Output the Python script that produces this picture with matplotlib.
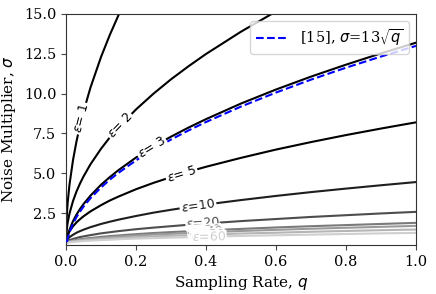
import numpy as np
import matplotlib
matplotlib.use("Agg")
import matplotlib.pyplot as plt

# ---- data ----
q_eps1 = [0, 0.001, 0.003, 0.005, 0.01, 0.02, 0.03, 0.04, 0.05, 0.07, 0.1, 0.125, 0.15, 0.16]
s_eps1 = [0.6, 1.77, 2.63, 3.22, 4.3, 5.83, 7.01, 8.0, 8.87, 10.39, 12.3, 13.68, 14.93, 15.4]

q_eps2 = [0, 0.001, 0.003, 0.005, 0.01, 0.02, 0.03, 0.04, 0.05, 0.07, 0.1, 0.125, 0.15,
          0.2, 0.25, 0.3, 0.35, 0.4, 0.5, 0.6, 0.62]
s_eps2 = [0.6, 1.19, 1.63, 1.93, 2.48, 3.26, 3.86, 4.36, 4.80, 5.57, 6.54, 7.25, 7.88,
          9.01, 10.0, 10.9, 11.72, 12.49, 13.89, 15.16, 15.4]

q_grid = [0, 0.001, 0.003, 0.005, 0.01, 0.02, 0.03, 0.04, 0.05, 0.07, 0.1, 0.125, 0.15,
          0.2, 0.25, 0.3, 0.35, 0.4, 0.5, 0.6, 0.7, 0.8, 0.9, 1.0]
s_eps3 = [0.6, 0.62, 0.87, 1.07, 1.46, 1.995, 2.41, 2.76, 3.07, 3.60, 4.28, 4.76, 5.20,
          5.99, 6.68, 7.30, 7.87, 8.40, 9.38, 10.26, 11.07, 11.82, 12.53, 13.2]
s_eps5 = [0.6, 0.84, 1.02, 1.14, 1.36, 1.67, 1.92, 2.12, 2.30, 2.61, 3.0, 3.29, 3.54,
          4.0, 4.4, 4.76, 5.10, 5.41, 5.97, 6.49, 6.96, 7.4, 7.81, 8.2]
s_eps10 = [0.6, 0.72, 0.81, 0.87, 0.99, 1.14, 1.27, 1.37, 1.46, 1.62, 1.82, 1.96, 2.09,
           2.32, 2.53, 2.71, 2.88, 3.04, 3.32, 3.58, 3.82, 4.04, 4.25, 4.45]
s_eps20 = [0.6, 0.66, 0.71, 0.74, 0.8, 0.88, 0.94, 1.0, 1.04, 1.12, 1.23, 1.30, 1.37,
           1.49, 1.59, 1.68, 1.77, 1.85, 2.0, 2.13, 2.26, 2.37, 2.48, 2.58]
s_eps30 = [0.6, 0.64, 0.67, 0.69, 0.73, 0.78, 0.82, 0.86, 0.89, 0.94, 1.01, 1.06, 1.10,
           1.18, 1.25, 1.31, 1.36, 1.42, 1.51, 1.6, 1.68, 1.75, 1.82, 1.89]
s_eps40 = [0.6, 0.63, 0.66, 0.68, 0.71, 0.76, 0.79, 0.82, 0.85, 0.89, 0.95, 0.99, 1.03,
           1.09, 1.15, 1.20, 1.25, 1.30, 1.38, 1.45, 1.52, 1.58, 1.64, 1.70]
s_eps50 = [0.6, 0.63, 0.65, 0.66, 0.69, 0.72, 0.75, 0.77, 0.79, 0.83, 0.88, 0.91, 0.94,
           0.99, 1.04, 1.08, 1.11, 1.15, 1.22, 1.27, 1.33, 1.38, 1.43, 1.47]
s_eps60 = [0.6, 0.62, 0.64, 0.65, 0.67, 0.69, 0.71, 0.73, 0.75, 0.77, 0.81, 0.83, 0.86,
           0.9, 0.93, 0.96, 0.99, 1.02, 1.07, 1.11, 1.15, 1.19, 1.23, 1.26]

s_baseline = [0, 0.41, 0.71, 0.92, 1.3, 1.84, 2.25, 2.6, 2.91, 3.44, 4.11, 4.60, 5.03,
              5.81, 6.5, 7.12, 7.69, 8.22, 9.19, 10.07, 10.88, 11.63, 12.33, 13.0]

eps_levels = [1, 2, 3, 5, 10, 20, 30, 40, 50, 60]
label_q = [0.045, 0.155, 0.245, 0.33, 0.377, 0.39, 0.395, 0.40, 0.405, 0.41]

curves = [
    (q_eps1, s_eps1), (q_eps2, s_eps2), (q_grid, s_eps3), (q_grid, s_eps5),
    (q_grid, s_eps10), (q_grid, s_eps20), (q_grid, s_eps30), (q_grid, s_eps40),
    (q_grid, s_eps50), (q_grid, s_eps60),
]
colors = ['black', 'black', 'black', 'black', '#1e1e1e', '#4d4d4d',
          '#7a7a7a', '#9a9a9a', '#b5b5b5', '#cfcfcf']

plt.rcParams['font.family'] = 'DejaVu Serif'
plt.rcParams['mathtext.fontset'] = 'dejavusans'

fig = plt.figure(figsize=(4.36, 2.94), dpi=100)
ax = fig.add_axes([0.1514, 0.1667, 0.8028, 0.7857])
ax.set_xlim(0, 1.0)
ax.set_ylim(0.5, 15.0)

for (qq, ss), c in zip(curves, colors):
    ax.plot(qq, ss, color=c, lw=1.5, zorder=2)

ax.plot(q_grid, s_baseline, color='blue', ls='--', lw=1.5, zorder=3,
        label=r'[15], $\sigma$=13$\sqrt{q}$')

fig.canvas.draw()
for i, ((qq, ss), c, e, lq) in enumerate(zip(curves, colors, eps_levels, label_q)):
    y0 = np.interp(lq, qq, ss)
    p1 = ax.transData.transform((lq - 0.01, np.interp(lq - 0.01, qq, ss)))
    p2 = ax.transData.transform((lq + 0.01, np.interp(lq + 0.01, qq, ss)))
    ang = np.degrees(np.arctan2(p2[1] - p1[1], p2[0] - p1[0]))
    pad = 1.0 if e < 20 else 0.0
    ax.text(lq, y0, r'$\epsilon$=%2d' % e, color=c, fontsize=9,
            family='DejaVu Sans', rotation=ang, rotation_mode='anchor',
            ha='center', va='center', zorder=4 + i,
            bbox=dict(facecolor='white', edgecolor='none', pad=pad))

ax.set_xticks([0.0, 0.2, 0.4, 0.6, 0.8, 1.0])
ax.set_yticks([2.5, 5.0, 7.5, 10.0, 12.5, 15.0])
ax.tick_params(labelsize=10.5, length=3.5, color='#444444')
for sp in ax.spines.values():
    sp.set_color('#333333')
ax.set_xlabel(r'Sampling Rate, $q$', fontsize=11)
ax.set_ylabel(r'Noise Multiplier, $\sigma$', fontsize=11)
ax.legend(loc='upper right', fontsize=10.5, handlelength=2.2)

fig.savefig('out.png', dpi=100)
